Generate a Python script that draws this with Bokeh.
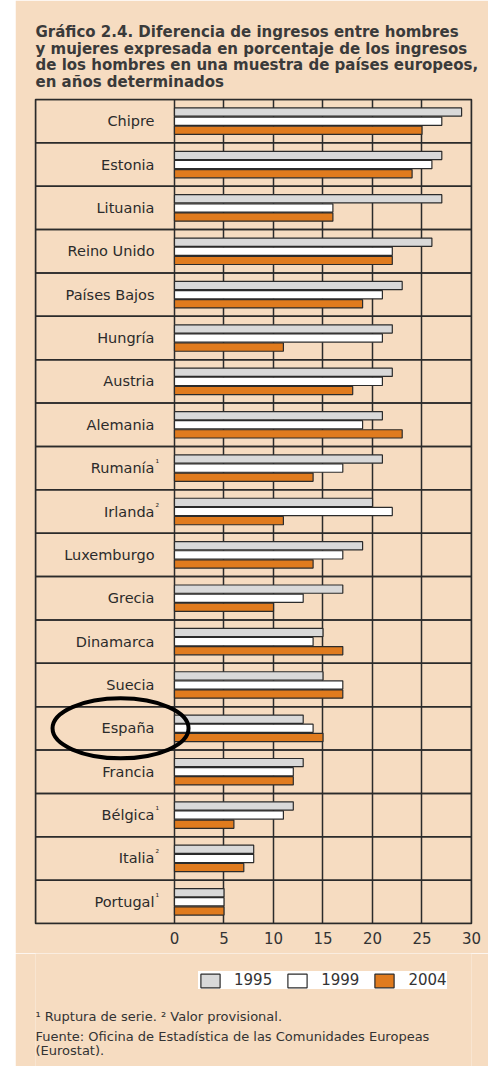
from bokeh.plotting import figure
from bokeh.models import (FactorRange, Range1d, FixedTicker, Legend, LegendItem,
                          Label, ColumnDataSource, Spacer)
from bokeh.layouts import row, column
from bokeh.transform import dodge
from bokeh.embed import file_html
from bokeh.resources import INLINE
from bokeh.core.properties import value

# ---------------- data ----------------
countries = ["Chipre", "Estonia", "Lituania", "Reino Unido", "Países Bajos",
             "Hungría", "Austria", "Alemania", "Rumanía", "Irlanda",
             "Luxemburgo", "Grecia", "Dinamarca", "Suecia", "España",
             "Francia", "Bélgica", "Italia", "Portugal"]
notes = ["", "", "", "", "", "", "", "", "¹", "²", "", "", "", "", "", "",
         "¹", "²", "¹"]
v1995 = [29, 27, 27, 26, 23, 22, 22, 21, 21, 20, 19, 17, 15, 15, 13, 13, 12, 8, 5]
v1999 = [27, 26, 16, 22, 21, 21, 21, 19, 17, 22, 17, 13, 14, 17, 14, 12, 11, 8, 5]
v2004 = [25, 24, 16, 22, 19, 11, 18, 23, 14, 11, 14, 10, 17, 17, 15, 12, 6, 7, 5]
years = ["1995", "1999", "2004"]
x_ticks = [0, 5, 10, 15, 20, 25, 30]
highlight = "España"
title_text = ("Gráfico 2.4. Diferencia de ingresos entre hombres\n"
              "y mujeres expresada en porcentaje de los ingresos\n"
              "de los hombres en una muestra de países europeos,\n"
              "en años determinados")
footnote = "¹ Ruptura de serie.  ² Valor provisional."
source_lines = ["Fuente: Oficina de Estadística de las Comunidades Europeas",
                "(Eurostat)."]

# ---------------- style ----------------
BG = "#f6dcc1"
DARK = "#2b2b2b"
COLORS = ["#d9d9d9", "#ffffff", "#e07b1e"]
FONT = "DejaVu Sans"

source = ColumnDataSource(dict(country=countries, note=notes,
                               v1995=v1995, v1999=v1999, v2004=v2004))

# ---------------- main chart ----------------
p = figure(frame_width=436, frame_height=824, output_backend="svg", toolbar_location=None,
           x_range=Range1d(-14.04, 30),
           y_range=FactorRange(factors=list(reversed(countries)), range_padding=0),
           y_axis_location=None,
           min_border_left=20, min_border_right=17,
           min_border_top=99, min_border_bottom=30)

p.background_fill_color = BG
p.border_fill_color = BG
p.outline_line_color = DARK
p.outline_line_width = 1.5

p.title.text = title_text
p.title.align = "left"
p.title.text_font = FONT
p.title.text_font_size = "15px"
p.title.text_font_style = "bold"
p.title.text_color = "#3a3a3a"
p.title.text_line_height = 0.93
p.title.standoff = 17

p.xaxis.ticker = FixedTicker(ticks=x_ticks)
p.xaxis.axis_line_color = None
p.xaxis.major_tick_line_color = None
p.xaxis.minor_tick_line_color = None
p.xaxis.major_tick_out = 0
p.xaxis.major_tick_in = 0
p.xaxis.major_label_standoff = 8
p.xaxis.major_label_text_font = FONT
p.xaxis.major_label_text_font_size = "15px"
p.xaxis.major_label_text_color = "#333333"
p.xgrid.grid_line_color = DARK
p.xgrid.grid_line_width = 1.5
p.ygrid.grid_line_color = None

# row boxes
p.hbar(y=countries, left=p.x_range.start, right=p.x_range.end, height=1,
       fill_color=None, line_color=DARK, line_width=1.5)

# bars
bar_style = dict(line_color=DARK, line_width=1.2)
for col, off, color in zip(["v1995", "v1999", "v2004"], [0.21, 0.0, -0.21], COLORS):
    p.hbar(y=dodge("country", off, range=p.y_range), left=0, right=col,
           height=0.19, fill_color=color, source=source, **bar_style)

# country labels
p.text(x=0, y="country", text="country", x_offset=-20, text_align="right",
       text_baseline="middle", text_font=value(FONT), text_font_size="14.5px",
       text_color="#2b2b2b", source=source)
p.text(x=0, y="country", text="note", x_offset=-19, y_offset=-5,
       text_align="left", text_baseline="middle", text_font=value(FONT),
       text_font_size="9px", text_color="#2b2b2b", source=source)

# highlight ellipse
p.ellipse(x=-5.45, y=[highlight], width=136, height=60, width_units="screen",
          height_units="screen", fill_color=None, line_color="black", line_width=4)

# ---------------- footer: legend + notes ----------------
f = figure(frame_width=436, frame_height=113, output_backend="svg", toolbar_location=None,
           x_range=Range1d(0, 436), y_range=Range1d(0, 113),
           x_axis_location=None, y_axis_location=None,
           min_border_left=20, min_border_right=17, min_border_top=0, min_border_bottom=0)
f.background_fill_color = BG
f.border_fill_color = BG
f.outline_line_color = None
f.xgrid.grid_line_color = None
f.ygrid.grid_line_color = None

# legend swatch renderers (kept off-screen; they only supply the legend glyphs)
legend_renderers = [f.hbar(y=[-500], left=[0], right=[1], height=1, fill_color=c,
                           **bar_style) for c in COLORS]
legend = Legend(items=[LegendItem(label=y, renderers=[r])
                       for y, r in zip(years, legend_renderers)],
                orientation="horizontal", location=(163, 77),
                background_fill_color="white", background_fill_alpha=1,
                border_line_color=None,
                glyph_width=24, glyph_height=17,
                label_text_font=FONT, label_text_font_size="15px",
                label_text_color="#333333", label_standoff=12, spacing=13,
                padding=10, margin=0)
f.add_layout(legend, "center")

f.add_layout(Label(x=0, y=50, text=footnote, text_font=FONT, text_font_size="13px",
                   text_color="#333333", text_baseline="middle"))
for i, line in enumerate(source_lines):
    f.add_layout(Label(x=0, y=30 - 14 * i, text=line, text_font=FONT,
                       text_font_size="13px", text_color="#333333",
                       text_baseline="middle"))

layout = row(Spacer(width=15, height=1066), column(p, f, spacing=0), spacing=0)
open("out.html", "w").write(file_html(layout, INLINE))
